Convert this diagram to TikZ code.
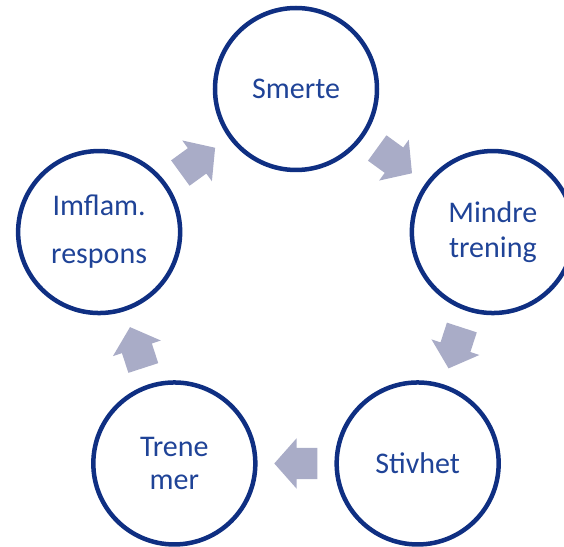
\documentclass[tikz,border=0pt]{standalone}
\usepackage{fontspec}
\setmainfont{Carlito}
\usetikzlibrary{calc,shapes.arrows}
\definecolor{ringblue}{HTML}{0F2F82}
\definecolor{textblue}{HTML}{1F4397}
\definecolor{arrowgray}{HTML}{A9ACC7}

\begin{document}
\begin{tikzpicture}[x=1pt,y=1pt,
  stage/.style={circle,draw=ringblue,line width=4.5pt,minimum size=162pt,inner sep=0pt,
    text=textblue,align=center,font=\fontsize{30}{35}\selectfont},
  cyclearrow/.style={single arrow,fill=arrowgray,draw=none,inner xsep=0pt,
    inner ysep=15.5pt,minimum height=43pt,single arrow head extend=9.5pt,
    single arrow tip angle=97,anchor=tail}]
  \clip (-296,-250) rectangle (268,296);
  % The five stages
  \node[stage] (smerte) at (90:207) {Smerte};
  \node[stage] (mindre) at (18:207) {Mindre\\trening};
  \node[stage] (stivhet) at (-54:207) {Stivhet};
  \node[stage] (trene) at (-126:207) {Trene\\[-2pt]mer};
  \node[stage] (imflam) at (162:207) {Imflam.\\[13pt]respons};
  % Block arrows between neighbours (tail set back half a length)
  \node[cyclearrow,rotate=-36] (a1) at ($(smerte)!0.5!(mindre)!-21.5pt!(mindre)$) {};
  \node[cyclearrow,rotate=-108] (a2) at ($(mindre)!0.5!(stivhet)!-21.5pt!(stivhet)$) {};
  \node[cyclearrow,rotate=180] (a3) at ($(stivhet)!0.5!(trene)!-21.5pt!(trene)$) {};
  \node[cyclearrow,rotate=108] (a4) at ($(trene)!0.5!(imflam)!-21.5pt!(imflam)$) {};
  \node[cyclearrow,rotate=36] (a5) at ($(imflam)!0.5!(smerte)!-21.5pt!(smerte)$) {};
\end{tikzpicture}
\end{document}
